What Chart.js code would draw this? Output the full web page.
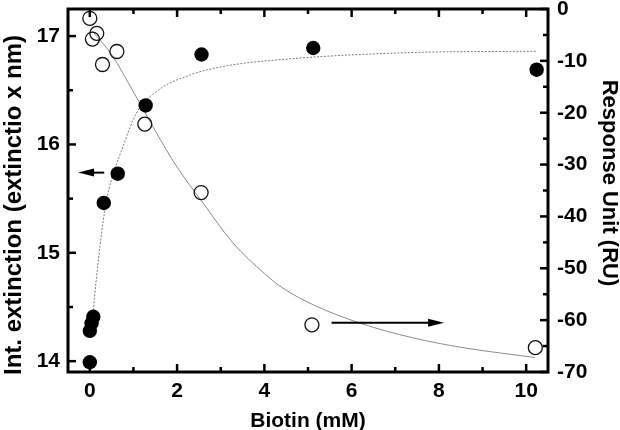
<!DOCTYPE html>
<html><head><meta charset="utf-8">
<script src="https://cdn.jsdelivr.net/npm/chart.js@4/dist/chart.umd.min.js"></script>
<style>html,body{margin:0;padding:0;background:#fff}#wrap{width:620px;height:430px}</style>
</head><body><div id="wrap"><canvas id="c" width="620" height="430"></canvas></div>
<script>
// ---- data ----
const filledX = [0, 0, 0.04, 0.08, 0.32, 0.64, 1.28, 2.56, 5.12, 10.24];
const filledY = [13.99, 14.28, 14.35, 14.41, 15.46, 15.73, 16.36, 16.83, 16.89, 16.69];
const openX = [0, 0.06, 0.16, 0.29, 0.62, 1.26, 2.55, 5.09, 10.21];
const openY = [-1.8, -5.8, -4.7, -10.7, -8.2, -22.2, -35.4, -60.9, -65.3];
const fitFilledX = [0.08, 0.15, 0.32, 0.44, 0.76, 1.07, 1.53, 2.29, 3.06, 4.59, 7.57, 10.24];
const fitFilledY = [14.47, 14.76, 15.33, 15.59, 15.98, 16.29, 16.49, 16.64, 16.72, 16.79, 16.85, 16.86];
const fitOpenX = [0.05, 0.5, 1.0, 1.5, 2.0, 2.56, 3.27, 4.0, 4.42, 5.11, 6.2, 7.4, 8.55, 10.2];
const fitOpenY = [-4.2, -8.8, -16.0, -23.5, -30.5, -37.0, -45.0, -51.0, -53.8, -57.0, -60.6, -63.4, -65.3, -67.2];
const xTicks = [0, 1, 2, 3, 4, 5, 6, 7, 8, 9, 10];
const leftTicks = [14, 14.5, 15, 15.5, 16, 16.5, 17];
const rightTicks = [-70, -65, -60, -55, -50, -45, -40, -35, -30, -25, -20, -15, -10, -5, 0];
const leftTitle = 'Int. extinction (extinctio x nm)';
const rightTitle = 'Response Unit (RU)';
const xTitle = 'Biotin (mM)';
const leftArrow = {x1: 0.33, x2: -0.27, y: 15.74};
const rightArrow = {x1: 5.54, x2: 8.12, y: -60.5};

const FONT = "'Liberation Sans', Arial, sans-serif";
const pts = (xs, ys) => xs.map((x, i) => ({x, y: ys[i]}));

const frameTicks = {
  id: 'frameTicks',
  afterDraw(chart) {
    const ctx = chart.ctx, a = chart.chartArea;
    const sx = chart.scales.x, sl = chart.scales.yL, sr = chart.scales.yR;
    ctx.save();
    ctx.strokeStyle = '#000';
    ctx.lineWidth = 2.5;
    ctx.lineCap = 'butt';
    const seg = (x1, y1, x2, y2) => { ctx.beginPath(); ctx.moveTo(x1, y1); ctx.lineTo(x2, y2); ctx.stroke(); };
    sx.ticks.forEach(t => {
      const p = sx.getPixelForValue(t.value);
      const len = t.label !== '' ? 8 : 5;
      seg(p, a.bottom, p, a.bottom - len);
      seg(p, a.top, p, a.top + len);
    });
    sl.ticks.forEach(t => {
      const p = sl.getPixelForValue(t.value);
      const len = t.label !== '' ? 8 : 5;
      seg(a.left, p, a.left + len, p);
    });
    sr.ticks.forEach(t => {
      const p = sr.getPixelForValue(t.value);
      const len = t.label !== '' ? 8 : 5;
      seg(a.right, p, a.right - len, p);
    });
    ctx.lineWidth = 3;
    ctx.strokeRect(a.left, a.top, a.right - a.left, a.bottom - a.top);
    // arrows
    const arrow = (xs, ys, x1, x2, y) => {
      const px1 = xs.getPixelForValue(x1), px2 = xs.getPixelForValue(x2), py = ys.getPixelForValue(y);
      const dir = Math.sign(px2 - px1);
      ctx.lineWidth = 2;
      seg(px1, py, px2 - dir * 14, py);
      ctx.beginPath();
      ctx.moveTo(px2, py);
      ctx.lineTo(px2 - dir * 16, py - 4);
      ctx.lineTo(px2 - dir * 16, py + 4);
      ctx.closePath();
      ctx.fillStyle = '#000';
      ctx.fill();
    };
    arrow(sx, sl, leftArrow.x1, leftArrow.x2, leftArrow.y);
    arrow(sx, sr, rightArrow.x1, rightArrow.x2, rightArrow.y);
    // vertical axis titles
    ctx.fillStyle = '#000';
    ctx.textBaseline = 'middle';
    ctx.textAlign = 'center';
    ctx.save();
    ctx.translate(14.4, 205);
    ctx.rotate(-Math.PI / 2);
    ctx.font = 'bold 24px ' + FONT;
    ctx.fillText(leftTitle, 0, 0);
    ctx.restore();
    ctx.save();
    ctx.translate(609, 183);
    ctx.rotate(Math.PI / 2);
    ctx.font = 'bold 22px ' + FONT;
    ctx.fillText(rightTitle, 0, 0);
    ctx.restore();
    ctx.restore();
  }
};

const tickFont = {family: FONT, size: 21, weight: 'bold'};
new Chart(document.getElementById('c'), {
  type: 'scatter',
  data: {
    datasets: [
      {data: pts(fitFilledX, fitFilledY), yAxisID: 'yL', showLine: true, pointRadius: 0,
       borderColor: '#7a7a7a', borderWidth: 1, borderDash: [2, 1.5], cubicInterpolationMode: 'monotone', order: 3},
      {data: pts(fitOpenX, fitOpenY), yAxisID: 'yR', showLine: true, pointRadius: 0,
       borderColor: '#8a8a8a', borderWidth: 1, cubicInterpolationMode: 'monotone', order: 4},
      {data: pts(openX, openY), yAxisID: 'yR', pointRadius: 7, pointBackgroundColor: 'rgba(255,255,255,0)',
       pointBorderColor: '#111', pointBorderWidth: 1.3, order: 2},
      {data: pts(filledX, filledY), yAxisID: 'yL', pointRadius: 7.2, pointBackgroundColor: '#000',
       pointBorderColor: '#000', pointBorderWidth: 0, order: 1}
    ]
  },
  options: {
    responsive: false, animation: false, devicePixelRatio: 1,
    layout: {padding: {top: 9, left: 0, right: 0, bottom: 0}},
    plugins: {legend: {display: false}, tooltip: {enabled: false}},
    scales: {
      x: {
        type: 'linear', position: 'bottom', min: -0.5, max: 10.5,
        afterBuildTicks: s => { s.ticks = xTicks.map(v => ({value: v})); },
        afterFit: s => { s.height = 58; s.paddingLeft = 0; s.paddingRight = 0; },
        grid: {display: false, drawTicks: false}, border: {display: false},
        ticks: {autoSkip: false, maxRotation: 0, padding: 7, color: '#000', font: tickFont,
                callback: v => (v % 2 === 0 ? String(v) : '')},
        title: {display: true, text: xTitle, color: '#000', padding: {top: 0, bottom: 0},
                font: {family: FONT, size: 21, weight: 'bold', lineHeight: 0.85}}
      },
      yL: {
        type: 'linear', position: 'left', min: 13.9, max: 17.25,
        afterBuildTicks: s => { s.ticks = leftTicks.map(v => ({value: v})); },
        afterFit: s => { s.width = 68; s.paddingTop = 0; s.paddingBottom = 0; },
        grid: {display: false, drawTicks: false}, border: {display: false},
        ticks: {autoSkip: false, padding: 8, color: '#000', font: tickFont,
                callback: v => (Number.isInteger(v) ? String(v) : '')},
        title: {display: false, text: leftTitle}
      },
      yR: {
        type: 'linear', position: 'right', min: -70, max: 0,
        afterBuildTicks: s => { s.ticks = rightTicks.map(v => ({value: v})); },
        afterFit: s => { s.width = 72; s.paddingTop = 0; s.paddingBottom = 0; },
        grid: {display: false, drawTicks: false}, border: {display: false},
        ticks: {autoSkip: false, padding: 9, color: '#000', font: tickFont,
                callback: v => (v % 10 === 0 ? String(v) : '')},
        title: {display: false, text: rightTitle}
      }
    }
  },
  plugins: [frameTicks]
});
</script></body></html>
